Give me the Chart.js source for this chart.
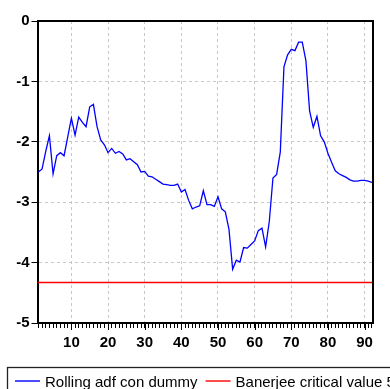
<!DOCTYPE html>
<html>
<head>
<meta charset="utf-8">
<script src="https://cdn.jsdelivr.net/npm/chart.js@4/dist/chart.umd.min.js"></script>
<style>
  html, body { margin: 0; padding: 0; background: #ffffff; }
  #wrap { width: 390px; height: 389px; position: relative; }
</style>
</head>
<body>
<div id="wrap"><canvas id="chart" width="390" height="389"></canvas></div>
<script>
// Observation index (1..92)
const observations = [
  1, 2, 3, 4, 5, 6, 7, 8, 9, 10, 11, 12, 13, 14, 15, 16, 17, 18, 19, 20,
  21, 22, 23, 24, 25, 26, 27, 28, 29, 30, 31, 32, 33, 34, 35, 36, 37, 38, 39, 40,
  41, 42, 43, 44, 45, 46, 47, 48, 49, 50, 51, 52, 53, 54, 55, 56, 57, 58, 59, 60,
  61, 62, 63, 64, 65, 66, 67, 68, 69, 70, 71, 72, 73, 74, 75, 76, 77, 78, 79, 80,
  81, 82, 83, 84, 85, 86, 87, 88, 89, 90, 91, 92
];

// Rolling ADF statistic (with dummy)
const rollingAdf = [
  -2.50, -2.45, -2.16, -1.90, -2.53, -2.23, -2.18, -2.23, -1.92, -1.61,
  -1.89, -1.59, -1.68, -1.75, -1.42, -1.38, -1.75, -1.97, -2.05, -2.18,
  -2.11, -2.19, -2.16, -2.20, -2.30, -2.28, -2.33, -2.38, -2.50, -2.49,
  -2.57, -2.58, -2.62, -2.66, -2.70, -2.71, -2.72, -2.72, -2.70, -2.83,
  -2.79, -2.97, -3.11, -3.08, -3.06, -2.81, -3.04, -3.04, -3.07, -2.91,
  -3.11, -3.16, -3.45, -4.11, -3.96, -3.99, -3.75, -3.76, -3.70, -3.64,
  -3.47, -3.43, -3.74, -3.32, -2.60, -2.54, -2.17, -0.76, -0.56, -0.47,
  -0.49, -0.35, -0.35, -0.66, -1.49, -1.76, -1.58, -1.90, -2.00, -2.19,
  -2.34, -2.48, -2.53, -2.56, -2.59, -2.63, -2.65, -2.65, -2.64, -2.64,
  -2.65, -2.67
];

// Banerjee 5% critical value
const criticalValue = -4.33;

const seriesNames = ['Rolling adf con dummy', 'Banerjee critical value 5'];
const seriesColors = ['#0000ff', '#ff0000'];

// Axis ranges and labelled ticks
const xRange = [0.75, 92.3];
const xLabelTicks = [10, 20, 30, 40, 50, 60, 70, 80, 90];
const yTicks = [-5, -4, -3, -2, -1, 0];

const AXIS_FONT = { family: "'Liberation Sans Narrow', 'Liberation Sans', Arial, sans-serif", size: 15, weight: 'bold' };
const LEGEND_FONT = "15px 'Liberation Sans Narrow', 'Liberation Sans', Arial, sans-serif";
const GRID_GRAY = '#c8c8c8';

// Closes the plot frame on the top and right sides, and lengthens the labelled x ticks
const framePlugin = {
  id: 'frame',
  afterDatasetsDraw(chart) {
    const { ctx, chartArea: a } = chart;
    const xs = chart.scales.x;
    ctx.save();
    ctx.strokeStyle = '#000';
    ctx.lineWidth = 2;
    ctx.beginPath();
    ctx.moveTo(a.left, a.top);
    ctx.lineTo(a.right, a.top);
    ctx.lineTo(a.right, a.bottom);
    ctx.stroke();
    ctx.lineWidth = 1;
    ctx.beginPath();
    xLabelTicks.forEach((v) => {
      const px = Math.round(xs.getPixelForValue(v)) + 0.5;
      ctx.moveTo(px, a.bottom);
      ctx.lineTo(px, a.bottom + 7);
    });
    ctx.stroke();
    ctx.restore();
  }
};

// Boxed legend along the bottom edge
const boxLegendPlugin = {
  id: 'boxLegend',
  afterDraw(chart) {
    const ctx = chart.ctx;
    ctx.save();
    ctx.strokeStyle = '#222';
    ctx.lineWidth = 1.3;
    ctx.strokeRect(7.5, 367.5, 400, 40);
    ctx.font = LEGEND_FONT;
    ctx.textBaseline = 'alphabetic';
    const y = 381;
    let x = 15;
    chart.data.datasets.forEach((ds) => {
      ctx.strokeStyle = ds.borderColor;
      ctx.lineWidth = 1.4;
      ctx.beginPath();
      ctx.moveTo(x, y);
      ctx.lineTo(x + 25, y);
      ctx.stroke();
      ctx.fillStyle = '#000';
      ctx.fillText(ds.label, x + 30, 386.5);
      x += 30 + ctx.measureText(ds.label).width + 8;
    });
    ctx.restore();
  }
};

new Chart(document.getElementById('chart'), {
  type: 'line',
  data: {
    datasets: [
      {
        label: seriesNames[0],
        data: observations.map((o, i) => ({ x: o, y: rollingAdf[i] })),
        borderColor: seriesColors[0],
        borderWidth: 1.3,
        pointRadius: 0,
        tension: 0,
        fill: false
      },
      {
        label: seriesNames[1],
        data: xRange.map((x) => ({ x: x, y: criticalValue })),
        borderColor: seriesColors[1],
        borderWidth: 1.5,
        pointRadius: 0,
        tension: 0,
        fill: false
      }
    ]
  },
  options: {
    responsive: false,
    animation: false,
    devicePixelRatio: 1,
    layout: { padding: { left: 0, top: 21, right: 17, bottom: 0 } },
    plugins: {
      legend: { display: false },
      tooltip: { enabled: false },
      title: { display: false }
    },
    scales: {
      x: {
        type: 'linear',
        min: xRange[0],
        max: xRange[1],
        afterFit(scale) { scale.height = 66; },
        afterBuildTicks(scale) {
          scale.ticks = observations.map((v) => ({ value: v }));
        },
        ticks: {
          autoSkip: false,
          maxRotation: 0,
          minRotation: 0,
          padding: 6,
          color: '#000',
          font: AXIS_FONT,
          callback: (v) => (xLabelTicks.includes(v) ? String(v) : '')
        },
        grid: {
          drawOnChartArea: true,
          drawTicks: true,
          tickLength: 5,
          tickColor: '#000',
          tickWidth: 1,
          lineWidth: 1,
          color: (ctx) => (ctx.tick && xLabelTicks.includes(ctx.tick.value) ? GRID_GRAY : 'rgba(0,0,0,0)')
        },
        border: { display: true, color: '#000', width: 2, dash: [3, 3] }
      },
      y: {
        type: 'linear',
        min: yTicks[0],
        max: yTicks[yTicks.length - 1],
        afterFit(scale) { scale.width = 37.5; },
        afterBuildTicks(scale) {
          scale.ticks = yTicks.map((v) => ({ value: v }));
        },
        ticks: {
          padding: 2,
          color: '#000',
          font: AXIS_FONT,
          callback: (v) => String(v)
        },
        grid: {
          drawOnChartArea: true,
          drawTicks: true,
          tickLength: 6,
          tickColor: '#000',
          tickWidth: 1,
          lineWidth: 1,
          color: (ctx) => (ctx.tick && ctx.tick.value > yTicks[0] && ctx.tick.value < yTicks[yTicks.length - 1] ? GRID_GRAY : 'rgba(0,0,0,0)')
        },
        border: { display: true, color: '#000', width: 2, dash: [3, 3] }
      }
    }
  },
  plugins: [framePlugin, boxLegendPlugin]
});
</script>
</body>
</html>
